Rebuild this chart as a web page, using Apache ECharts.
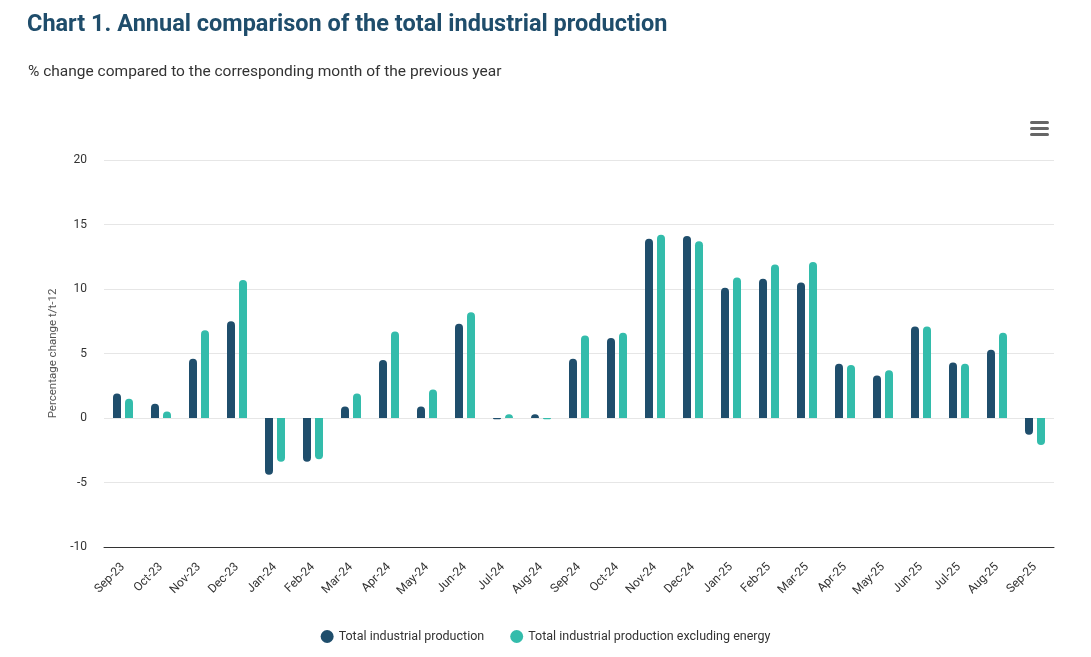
<!DOCTYPE html>
<html>
<head>
<meta charset="utf-8">
<script src="https://cdn.jsdelivr.net/npm/echarts@6/dist/echarts.min.js"></script>
<style>
  html, body { margin: 0; padding: 0; background: #fff; }
  #chart { width: 1091px; height: 657px; }
</style>
</head>
<body>
<div id="chart"></div>
<script>
// data
const months = ['Sep-23', 'Oct-23', 'Nov-23', 'Dec-23', 'Jan-24', 'Feb-24', 'Mar-24', 'Apr-24',
  'May-24', 'Jun-24', 'Jul-24', 'Aug-24', 'Sep-24', 'Oct-24', 'Nov-24', 'Dec-24', 'Jan-25',
  'Feb-25', 'Mar-25', 'Apr-25', 'May-25', 'Jun-25', 'Jul-25', 'Aug-25', 'Sep-25'];
const totalProduction = [1.9, 1.1, 4.6, 7.5, -4.4, -3.4, 0.9, 4.5, 0.9, 7.3, -0.1, 0.3, 4.6,
  6.2, 13.9, 14.1, 10.1, 10.8, 10.5, 4.2, 3.3, 7.1, 4.3, 5.3, -1.3];
const excludingEnergy = [1.5, 0.5, 6.8, 10.7, -3.4, -3.2, 1.9, 6.7, 2.2, 8.2, 0.3, -0.1, 6.4,
  6.6, 14.2, 13.7, 10.9, 11.9, 12.1, 4.1, 3.7, 7.1, 4.2, 6.6, -2.1];
const yTicks = [-10, -5, 0, 5, 10, 15, 20];

// rounded end only on the far side from zero
function rounded(values) {
  return values.map(v => ({
    value: v,
    itemStyle: { borderRadius: v >= 0 ? [4, 4, 0, 0] : [0, 0, 4, 4] }
  }));
}

const chart = echarts.init(document.getElementById('chart'), null, { renderer: 'canvas' });

const font = 'Roboto, "Noto Sans", sans-serif';

chart.setOption({
  animation: false,
  textStyle: { fontFamily: font },
  title: [
    {
      text: 'Chart 1. Annual comparison of the total industrial production',
      left: 22, top: 8,
      textStyle: { fontSize: 23.5, fontWeight: 'bold', color: '#1f4d6b', fontFamily: font }
    },
    {
      text: '% change compared to the corresponding month of the previous year',
      left: 23, top: 59,
      textStyle: { fontSize: 15.5, fontWeight: 'normal', color: '#333333' }
    }
  ],
  legend: {
    bottom: 9,
    left: 'center',
    icon: 'circle',
    itemWidth: 13,
    itemHeight: 13,
    itemGap: 26,
    textStyle: { fontSize: 12.5, color: '#333333' },
    data: ['Total industrial production', 'Total industrial production excluding energy']
  },
  grid: { left: 104, right: 37, top: 160, bottom: 110 },
  xAxis: {
    type: 'category',
    data: months,
    axisLine: { onZero: false, lineStyle: { color: '#333333', width: 1 } },
    axisTick: { show: false },
    axisLabel: { rotate: 45, color: '#333333', fontSize: 12, interval: 0, margin: 18 }
  },
  yAxis: {
    type: 'value',
    min: yTicks[0],
    max: yTicks[yTicks.length - 1],
    interval: 5,
    name: 'Percentage change t/t-12',
    nameLocation: 'middle',
    nameGap: 45,
    nameTextStyle: { color: '#555555', fontSize: 11.5 },
    axisLine: { show: false },
    axisTick: { show: false },
    axisLabel: { color: '#333333', fontSize: 12, margin: 17 },
    splitLine: { lineStyle: { color: '#e6e6e6' } }
  },
  series: [
    {
      name: 'Total industrial production',
      type: 'bar',
      data: rounded(totalProduction),
      barWidth: 8,
      barGap: '50%',
      itemStyle: { color: '#1f4e6c' }
    },
    {
      name: 'Total industrial production excluding energy',
      type: 'bar',
      data: rounded(excludingEnergy),
      barWidth: 8,
      itemStyle: { color: '#33bcab' }
    }
  ],
  graphic: [
    { type: 'rect', left: 1030, top: 121, shape: { width: 19, height: 3, r: 1.5 }, style: { fill: '#666666' } },
    { type: 'rect', left: 1030, top: 127, shape: { width: 19, height: 3, r: 1.5 }, style: { fill: '#666666' } },
    { type: 'rect', left: 1030, top: 133, shape: { width: 19, height: 3, r: 1.5 }, style: { fill: '#666666' } }
  ]
});
</script>
</body>
</html>
